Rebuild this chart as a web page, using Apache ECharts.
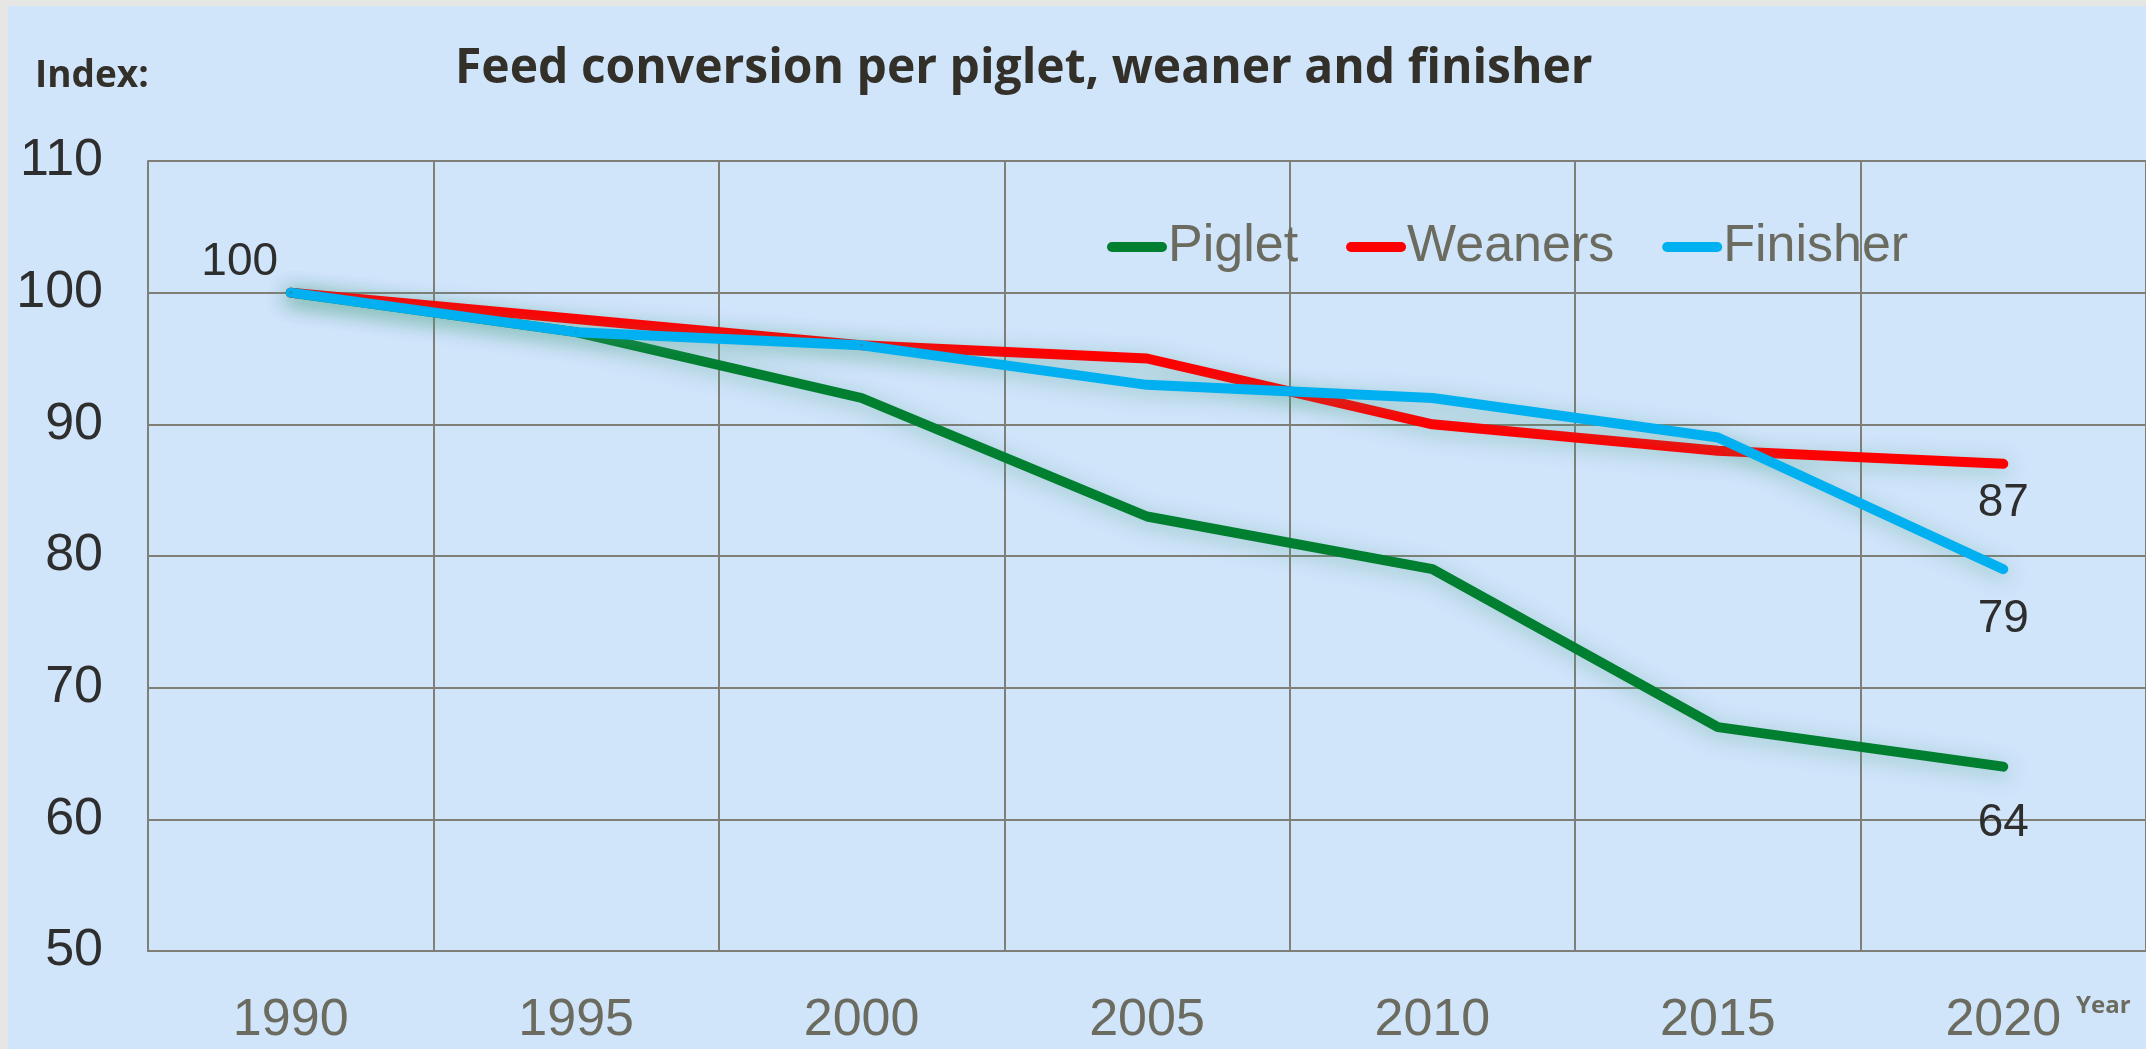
<!DOCTYPE html>
<html>
<head>
<meta charset="utf-8">
<style>
html,body{margin:0;padding:0;background:#e6e6e4;}
#chart{width:2146px;height:1049px;}
</style>
<script src="https://cdn.jsdelivr.net/npm/echarts@6/dist/echarts.min.js"></script>
</head>
<body>
<div id="chart"></div>
<script>
const years = ['1990','1995','2000','2005','2010','2015','2020'];
const piglet   = [100, 97, 92, 83, 79, 67, 64];
const weaners  = [100, 98, 96, 95, 90, 88, 87];
const finisher = [100, 97, 96, 93, 92, 89, 79];
const yTicks = [50, 60, 70, 80, 90, 100, 110];

const chart = echarts.init(document.getElementById('chart'));
const glow = { shadowColor: 'rgba(70,160,130,0.45)', shadowBlur: 20, shadowOffsetY: 4 };
const labelFont = { fontFamily: 'Liberation Sans', fontSize: 46, color: '#2e2e2e' };
const capsule = 'path://M5,0 L55,0 A5,5 0 0 1 55,10 L5,10 A5,5 0 0 1 5,0 Z';

function withLabels(values, labels) {
  return values.map((v, i) => {
    const l = labels[i];
    if (!l) return v;
    return { value: v, label: Object.assign({ show: true }, labelFont, l) };
  });
}

function mkSeries(name, values, color, labels) {
  return {
    name, type: 'line', data: withLabels(values, labels),
    symbol: 'circle', symbolSize: 2, showSymbol: true,
    lineStyle: Object.assign({ color, width: 10, cap: 'round', join: 'round' }, glow),
    itemStyle: { color },
    label: { show: false },
    emphasis: { disabled: true },
    z: 3
  };
}

const last = years.length - 1;
const option = {
  backgroundColor: '#e6e6e4',
  animation: false,
  graphic: [
    { type: 'rect', z: -10, silent: true, shape: { x: 8, y: 6, width: 2146, height: 1049 }, style: { fill: '#d0e4fa' } },
    { type: 'text', left: 2076, top: 994, style: { text: 'Year', font: 'bold 24px "Open Sans"', fill: '#6b6b5f' } }
  ],
  title: [
    { text: 'Feed conversion per piglet, weaner and finisher', left: 450, top: 40,
      textStyle: { fontFamily: 'Open Sans', fontWeight: 'bold', fontSize: 48, color: '#333029' } },
    { text: 'Index:', left: 30, top: 53,
      textStyle: { fontFamily: 'Open Sans', fontWeight: 'bold', fontSize: 37, color: '#333029' } }
  ],
  legend: {
    left: 1102, top: 216, itemWidth: 60, itemHeight: 10, itemGap: 48,
    icon: capsule,
    textStyle: { fontFamily: 'Liberation Sans', fontSize: 52, color: '#6b6b5f', padding: [0, 0, 0, -4] },
    data: ['Piglet', 'Weaners', 'Finisher']
  },
  grid: { left: 148, top: 161, right: 0, bottom: 98, containLabel: false },
  xAxis: {
    type: 'category', data: years, boundaryGap: true,
    axisLine: { show: true, lineStyle: { color: '#7f7f77', width: 2 } },
    axisTick: { show: false },
    splitLine: { show: true, lineStyle: { color: '#7f7f77', width: 2 } },
    axisLabel: { fontFamily: 'Liberation Sans', fontSize: 52, color: '#6b6b5f', margin: 44 }
  },
  yAxis: {
    type: 'value', min: yTicks[0], max: yTicks[yTicks.length - 1], interval: 10,
    axisLine: { show: true, lineStyle: { color: '#7f7f77', width: 2 } },
    axisTick: { show: false },
    splitLine: { show: true, lineStyle: { color: '#7f7f77', width: 2 } },
    axisLabel: { fontFamily: 'Liberation Sans', fontSize: 52, color: '#2e2e2e', margin: 45 }
  },
  series: [
    mkSeries('Piglet', piglet, '#007f30', { [last]: { position: 'bottom', distance: 33 } }),
    mkSeries('Weaners', weaners, '#ff0000', { [last]: { position: 'bottom', distance: 15 } }),
    mkSeries('Finisher', finisher, '#00b0f0', { 0: { position: 'top', distance: 6, offset: [-51, 0] }, [last]: { position: 'bottom', distance: 26 } })
  ]
};
chart.setOption(option);
</script>
</body>
</html>
